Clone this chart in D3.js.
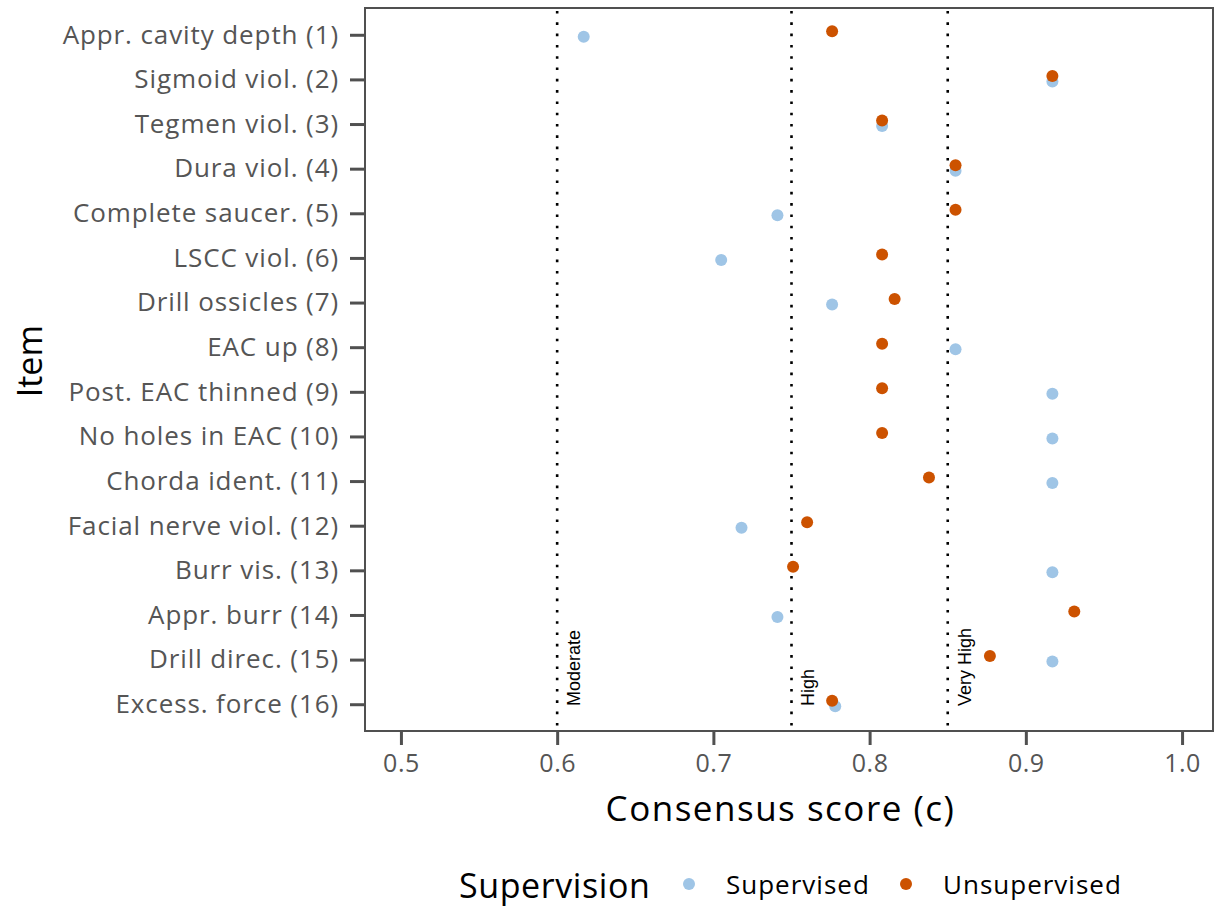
<!DOCTYPE html>
<html>
<head>
<meta charset="utf-8">
<script src="https://cdn.jsdelivr.net/npm/d3@7"></script>
<style>
  body { margin: 0; background: #fff; }
  text { font-family: "Open Sans", "Noto Sans", sans-serif; }
</style>
</head>
<body>
<div id="chart"></div>
<script>
const items = [
  "Appr. cavity depth (1)", "Sigmoid viol. (2)", "Tegmen viol. (3)", "Dura viol. (4)",
  "Complete saucer. (5)", "LSCC viol. (6)", "Drill ossicles (7)", "EAC up (8)",
  "Post. EAC thinned (9)", "No holes in EAC (10)", "Chorda ident. (11)",
  "Facial nerve viol. (12)", "Burr vis. (13)", "Appr. burr (14)",
  "Drill direc. (15)", "Excess. force (16)"
];
const supervised = [0.617, 0.917, 0.808, 0.855, 0.741, 0.705, 0.776, 0.855,
                    0.917, 0.917, 0.917, 0.718, 0.917, 0.741, 0.917, 0.778];
const unsupervised = [0.776, 0.917, 0.808, 0.855, 0.855, 0.808, 0.816, 0.808,
                      0.808, 0.808, 0.838, 0.760, 0.751, 0.931, 0.877, 0.776];
const groups = ["Supervised", "Unsupervised"];
const thresholds = [0.6, 0.75, 0.85];
const thresholdLabels = ["Moderate", "High", "Very High"];
const xTicks = [0.5, 0.6, 0.7, 0.8, 0.9, 1.0];

const margin = { top: 8, right: 2, bottom: 179, left: 365 },
      width = 1215 - margin.left - margin.right,
      height = 910 - margin.top - margin.bottom;

const svg = d3.select("#chart")
  .append("svg")
  .attr("width", 1215)
  .attr("height", 910)
  .append("g")
  .attr("transform", `translate(${margin.left},${margin.top})`);

const x = d3.scaleLinear().domain([0.477, 1.0198]).range([0, width]);
const y = d3.scalePoint().domain(items).range([0, height]).padding(0.6);
const color = d3.scaleOrdinal().domain(groups).range(["#9fc5e6", "#cc5200"]);
const dodge = { Supervised: 2, Unsupervised: -3.5 };

// threshold lines
thresholds.forEach((t, i) => {
  svg.append("line")
    .attr("x1", x(t)).attr("x2", x(t))
    .attr("y1", 0).attr("y2", height)
    .attr("stroke", "#000")
    .attr("stroke-width", 2.6)
    .attr("stroke-dasharray", "2.6 8.7")
    .attr("stroke-dashoffset", -3);
  svg.append("text")
    .attr("transform", `translate(${x(t) + 23},${height - 25}) rotate(-90)`)
    .style("font-family", "'Liberation Sans', Arial, sans-serif")
    .style("font-size", "18px")
    .attr("fill", "#000")
    .text(thresholdLabels[i]);
});

// points
const points = [];
items.forEach((it, i) => {
  points.push({ item: it, group: "Supervised", value: supervised[i] });
});
items.forEach((it, i) => {
  points.push({ item: it, group: "Unsupervised", value: unsupervised[i] });
});

svg.selectAll(".pt")
  .data(points)
  .enter().append("circle")
  .attr("class", "pt")
  .attr("cx", d => x(d.value))
  .attr("cy", d => y(d.item) + dodge[d.group])
  .attr("r", 6)
  .attr("fill", d => color(d.group));

// panel border
svg.append("rect")
  .attr("x", 0).attr("y", 0)
  .attr("width", width).attr("height", height)
  .attr("fill", "none")
  .attr("stroke", "#505050")
  .attr("stroke-width", 2);

// y axis
const yAxis = svg.append("g")
  .call(d3.axisLeft(y).tickSize(15).tickPadding(11));
yAxis.select(".domain").remove();
yAxis.selectAll(".tick line").attr("stroke", "#505050").attr("stroke-width", 3);
yAxis.selectAll(".tick text")
  .attr("fill", "#555")
  .style("font-size", "26px")
  .style("letter-spacing", "0.9px");

// x axis
const xAxis = svg.append("g")
  .attr("transform", `translate(0,${height})`)
  .call(d3.axisBottom(x).tickValues(xTicks).tickFormat(d3.format(".1f")).tickSize(14).tickPadding(9));
xAxis.select(".domain").remove();
xAxis.selectAll(".tick line").attr("stroke", "#505050").attr("stroke-width", 3);
xAxis.selectAll(".tick text")
  .attr("fill", "#555")
  .style("font-size", "25px")
  .style("letter-spacing", "0.5px");

// axis titles
svg.append("text")
  .attr("x", x(0.75) - 11)
  .attr("y", height + 90)
  .attr("text-anchor", "middle")
  .style("font-size", "35px")
  .style("letter-spacing", "1.5px")
  .attr("fill", "#000")
  .text("Consensus score (c)");

svg.append("text")
  .attr("transform", `translate(${-margin.left + 42},${y(items[7]) + 14}) rotate(-90)`)
  .attr("text-anchor", "middle")
  .style("font-size", "34px")
  .attr("fill", "#000")
  .text("Item");

// legend
const legend = d3.select("svg").append("g")
  .attr("transform", "translate(0,886)");
legend.append("text")
  .attr("x", 459).attr("y", 12)
  .style("font-size", "34px")
  .style("letter-spacing", "0.6px")
  .attr("fill", "#000")
  .text("Supervision");
const legendX = [689, 906];
groups.forEach((g, i) => {
  legend.append("circle")
    .attr("cx", legendX[i]).attr("cy", -2)
    .attr("r", 6)
    .attr("fill", color(g));
  legend.append("text")
    .attr("x", legendX[i] + 37).attr("y", 8)
    .style("font-size", "26px")
    .style("letter-spacing", "1px")
    .attr("fill", "#000")
    .text(g);
});
</script>
</body>
</html>
